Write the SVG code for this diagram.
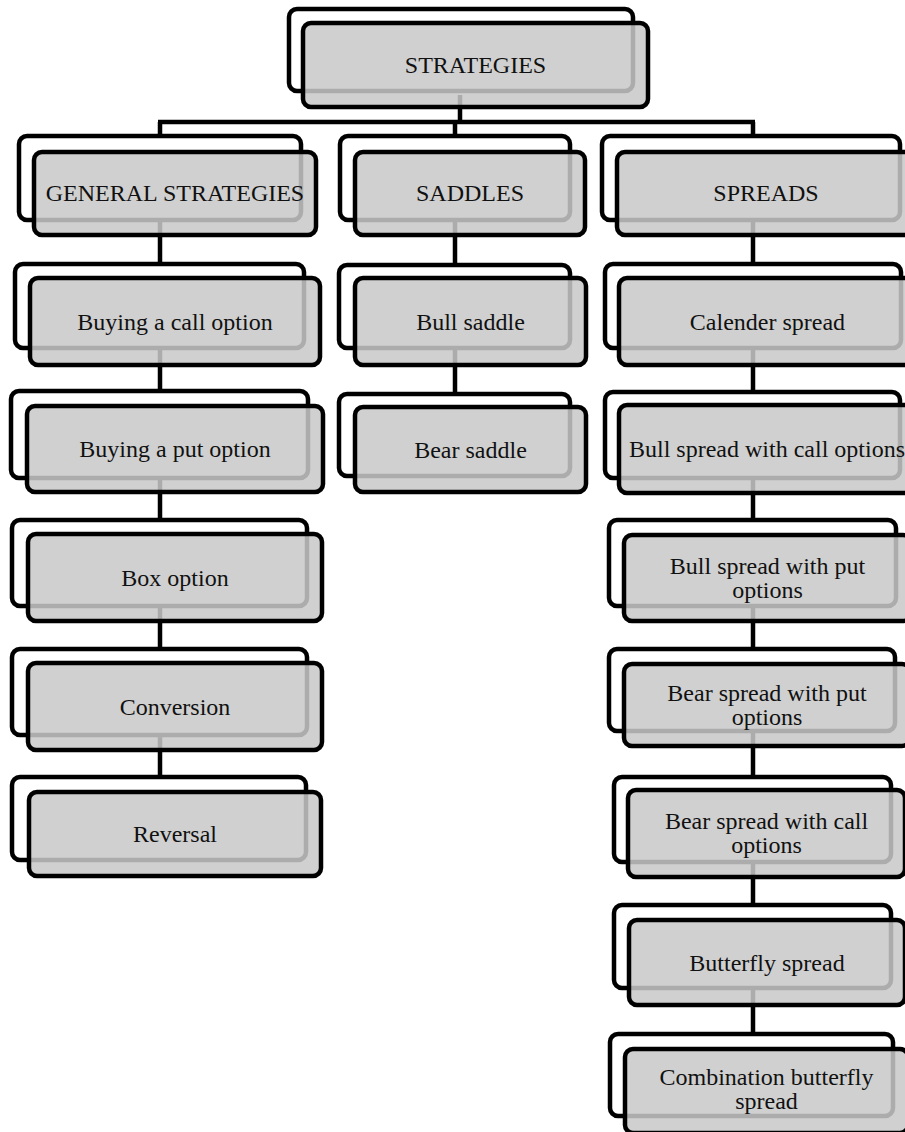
<svg xmlns="http://www.w3.org/2000/svg" width="905" height="1132" viewBox="0 0 905 1132">
<style>
.bk{fill:#fff;stroke:#000;stroke-width:4.5}
.fr{fill:rgb(200,200,200);fill-opacity:0.86;stroke:#000;stroke-width:4.5}
.t{font-family:"Liberation Serif","Times New Roman",serif;font-size:24px;fill:#111;text-anchor:middle}
.c{fill:none;stroke:#000;stroke-width:4.5}
</style>
<rect width="905" height="1132" fill="#fff"/>
<g id="connectors">
<path class="c" d="M460,95V122M158,122H755M160,122V790M455,122V400M753,122V1040"/>
</g>
<g id="strategies"><rect class="bk" x="289" y="9" width="344" height="82" rx="8"/><rect class="fr" x="303" y="23" width="345" height="84" rx="8"/><text class="t" x="475.5" y="73">STRATEGIES</text></g>
<g id="general"><rect class="bk" x="19" y="136" width="282" height="84" rx="8"/><rect class="fr" x="34" y="152" width="282" height="83" rx="8"/><text class="t" x="175" y="201">GENERAL STRATEGIES</text></g>
<g id="call"><rect class="bk" x="15" y="264" width="289" height="84" rx="8"/><rect class="fr" x="30" y="278" width="290" height="87" rx="8"/><text class="t" x="175" y="329.5">Buying a call option</text></g>
<g id="put"><rect class="bk" x="11" y="391" width="297" height="87" rx="8"/><rect class="fr" x="27" y="406" width="296" height="86" rx="8"/><text class="t" x="175" y="457">Buying a put option</text></g>
<g id="box"><rect class="bk" x="12" y="520" width="295" height="86" rx="8"/><rect class="fr" x="28" y="534" width="294" height="87" rx="8"/><text class="t" x="175" y="585.5">Box option</text></g>
<g id="conversion"><rect class="bk" x="12" y="649" width="295" height="86" rx="8"/><rect class="fr" x="28" y="663" width="294" height="87" rx="8"/><text class="t" x="175" y="714.5">Conversion</text></g>
<g id="reversal"><rect class="bk" x="12" y="777" width="294" height="83" rx="8"/><rect class="fr" x="29" y="792" width="292" height="84" rx="8"/><text class="t" x="175" y="842">Reversal</text></g>
<g id="saddles"><rect class="bk" x="340" y="136" width="230" height="84" rx="8"/><rect class="fr" x="355" y="152" width="230" height="83" rx="8"/><text class="t" x="470" y="201">SADDLES</text></g>
<g id="bull-saddle"><rect class="bk" x="339" y="265" width="231" height="83" rx="8"/><rect class="fr" x="355" y="278" width="231" height="87" rx="8"/><text class="t" x="470.5" y="329.5">Bull saddle</text></g>
<g id="bear-saddle"><rect class="bk" x="339" y="394" width="231" height="82" rx="8"/><rect class="fr" x="355" y="407" width="231" height="85" rx="8"/><text class="t" x="470.5" y="457.5">Bear saddle</text></g>
<g id="spreads"><rect class="bk" x="602" y="136" width="298" height="84" rx="8"/><rect class="fr" x="617" y="152" width="298" height="83" rx="8"/><text class="t" x="766" y="201">SPREADS</text></g>
<g id="calender"><rect class="bk" x="605" y="264" width="296" height="84" rx="8"/><rect class="fr" x="619" y="278" width="297" height="87" rx="8"/><text class="t" x="767.5" y="329.5">Calender spread</text></g>
<g id="bull-call"><rect class="bk" x="605" y="392" width="295" height="86" rx="8"/><rect class="fr" x="619" y="405" width="296" height="88" rx="8"/><text class="t" x="767" y="457">Bull spread with call options</text></g>
<g id="bull-put"><rect class="bk" x="609" y="520" width="287" height="86" rx="8"/><rect class="fr" x="624" y="535" width="287" height="86" rx="8"/><text class="t" x="767.5" y="574">Bull spread with put</text><text class="t" x="767.5" y="598">options</text></g>
<g id="bear-put"><rect class="bk" x="609" y="649" width="286" height="82" rx="8"/><rect class="fr" x="624" y="664" width="286" height="82" rx="8"/><text class="t" x="767" y="701">Bear spread with put</text><text class="t" x="767" y="725">options</text></g>
<g id="bear-call"><rect class="bk" x="614" y="777" width="277" height="85" rx="8"/><rect class="fr" x="628" y="790" width="277" height="87" rx="8"/><text class="t" x="766.5" y="829">Bear spread with call</text><text class="t" x="766.5" y="853">options</text></g>
<g id="butterfly"><rect class="bk" x="614" y="905" width="277" height="83" rx="8"/><rect class="fr" x="629" y="920" width="276" height="85" rx="8"/><text class="t" x="767" y="970.5">Butterfly spread</text></g>
<g id="combination"><rect class="bk" x="610" y="1034" width="283" height="82" rx="8"/><rect class="fr" x="625" y="1049" width="283" height="84" rx="8"/><text class="t" x="766.5" y="1085">Combination butterfly</text><text class="t" x="766.5" y="1109">spread</text></g>
</svg>
